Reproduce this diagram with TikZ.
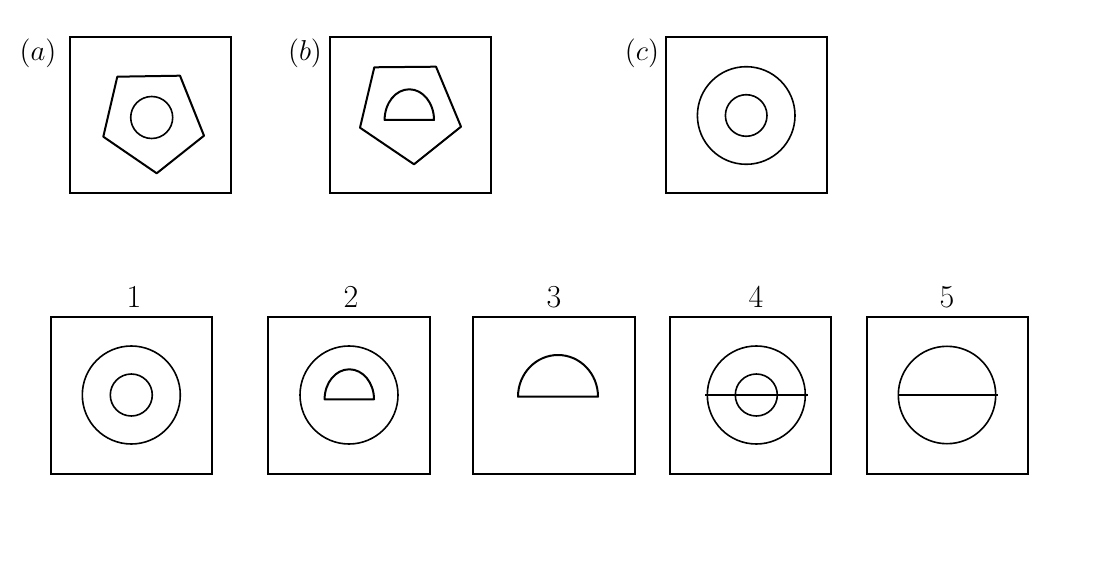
\documentclass[tikz,border=0pt]{standalone}
\usetikzlibrary{positioning}
\begin{document}
\begin{tikzpicture}[x=0.5pt,y=-0.5pt,
    marco/.style={line width=1pt},
    figura/.style={line width=1pt,line join=round},
    circulo/.style={line width=0.8pt},
    letra/.style={font=\Large},
    numero/.style={font=\fontsize{16}{19}\selectfont}]
  \useasboundingbox (0,0) rectangle (1102,566);
  % Marcos de arriba
  \draw[marco] (70,37) rectangle (231,193);
  \draw[marco] (330,37) rectangle (491,193);
  \draw[marco] (666,37) rectangle (827,193);
  \node[letra] (la) at (38,53) {$(a)$};
  \node[letra] (lb) at (305,53) {$(b)$};
  \node[letra] (lc) at (642,53) {$(c)$};
  % Figura (a)
  \draw[figura] (117.3,76.7)--(180,75.7)--(204,135.7)--(156.7,173.3)--(103.3,136.7)--cycle;
  \draw[circulo] (151.7,117.5) circle[radius=21];
  % Figura (b)
  \draw[figura] (374.3,67.3)--(436,66.7)--(461,126.7)--(414,164.3)--(360,127.7)--cycle;
  \draw[figura] (384.6,120) arc[start angle=180,end angle=360,x radius=24.7,y radius=30.7]--cycle;
  % Figura (c)
  \draw[circulo] (746.2,115.5) circle[radius=48.8];
  \draw[circulo] (746.2,115.5) circle[radius=20.8];

  % Marcos de abajo
  \draw[marco] (51,317) rectangle (212,474);
  \draw[marco] (268,317) rectangle (430,474);
  \draw[marco] (473,317) rectangle (635,474);
  \draw[marco] (670,317) rectangle (831,474);
  \draw[marco] (867,317) rectangle (1028,474);
  \node[numero] (n1) at (134,297) {1};
  \node[numero] (n2) at (351,297) {2};
  \node[numero] (n3) at (554,297) {3};
  \node[numero] (n4) at (756,297) {4};
  \node[numero] (n5) at (947,297) {5};
  % Opcion 1
  \draw[circulo] (131.3,395) circle[radius=49];
  \draw[circulo] (131.3,395) circle[radius=21];
  % Opcion 2
  \draw[circulo] (349,395) circle[radius=49];
  \draw[figura] (324.6,399.3) arc[start angle=180,end angle=360,x radius=24.7,y radius=30]--cycle;
  % Opcion 3
  \draw[figura] (518,396.7) arc[start angle=180,end angle=360,x radius=40,y radius=41.7]--cycle;
  % Opcion 4
  \draw[circulo] (756.3,395) circle[radius=49];
  \draw[circulo] (756.3,395) circle[radius=21];
  \draw[figura] (705.3,395)--(807.7,395);
  % Opcion 5
  \draw[circulo] (947,395) circle[radius=48.7];
  \draw[figura] (898.3,395)--(997.7,395);
\end{tikzpicture}
\end{document}
